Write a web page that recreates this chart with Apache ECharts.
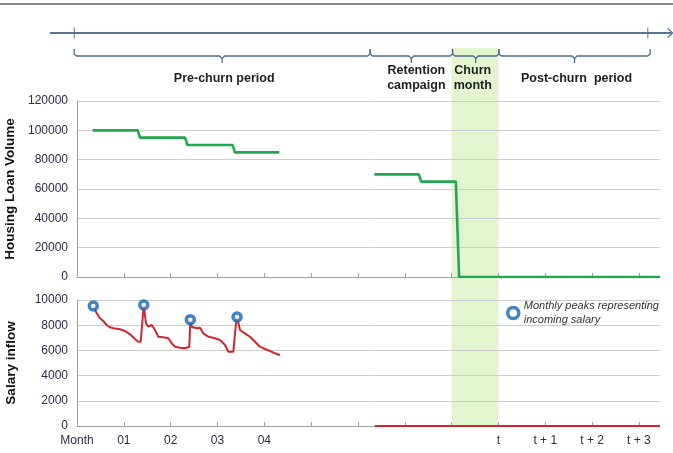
<!DOCTYPE html>
<html><head><meta charset="utf-8">
<script src="https://cdn.jsdelivr.net/npm/echarts@6/dist/echarts.min.js"></script>
<style>html,body{margin:0;padding:0;background:#fff}#c{width:673px;height:453px}</style>
</head><body><div id="c"></div>
<script>
// ---- data (x = months on the common time axis) ----
const monthTicks = [0,1,2,3,4,5,6,7,8,9,10,11,12];
const monthLabels = ['Month','01','02','03','04','','','','','t','t + 1','t + 2','t + 3'];
const loanPre = [[0.335,100000],[1.296,100000],[1.345,95000],[2.306,95000],[2.36,90000],[3.325,90000],[3.37,85000],[4.32,85000]];
const loanRetention = [[6.35,70000],[7.30,70000],[7.35,65000],[8.09,65000],[8.16,0],[12.45,0]];
const salary = [[0.348,9524],[0.421,8944],[0.491,8548],[0.562,8333],[0.634,8016],[0.705,7833],[0.775,7754],[0.918,7675],[1.025,7540],[1.132,7278],[1.239,6905],[1.309,6690],[1.360,6690],[1.425,9603],[1.473,8151],[1.523,7881],[1.595,8016],[1.666,7619],[1.736,7087],[1.843,7040],[1.950,6960],[2.022,6563],[2.093,6294],[2.199,6214],[2.306,6167],[2.398,6294],[2.420,8440],[2.445,7881],[2.483,7833],[2.556,7754],[2.627,7802],[2.697,7357],[2.804,7087],[2.911,7008],[3.054,6825],[3.160,6429],[3.231,5897],[3.338,5897],[3.395,8151],[3.418,8650],[3.481,7619],[3.587,7357],[3.694,7087],[3.801,6690],[3.908,6294],[4.014,6111],[4.121,5952],[4.228,5770],[4.335,5635]];
const salaryAfter = [[6.36,0],[12.45,0]];
const salaryPeaks = [[0.348,9524],[1.425,9603],[2.420,8440],[3.418,8650]];
const peakLabel = 'Monthly peaks representing\nincoming salary';
const churnMonth = [8, 9];
const timelineExtent = [-0.58, 12.72];
const timelineTicks = [-0.06, 12.19];
const periodStarts = [-0.06, 6.26, 8.02, 9.01];
const periodEnds = [6.26, 8.02, 9.01, 12.24];
const periodLabels = ['Pre-churn period', 'Retention\ncampaign', 'Churn\nmonth', 'Post-churn  period'];

// ---- chart ----
const FF = 'Liberation Sans, Arial, sans-serif';
const labelShift = [2, 5, -3, 2];
const chart = echarts.init(document.getElementById('c'), null, {renderer:'canvas'});
const baseX = {type:'value', min:0, max:12.45, interval:1};
const axisGray = '#a0a0a0';
const tickColor = '#2e2a4a';
const gridBase = {left:77, right:13, containLabel:false, outerBoundsMode:'none'};
const option = {
  animation:false,
  backgroundColor:'#fff',
  textStyle:{fontFamily:FF},
  grid:[
    Object.assign({top:101, height:176}, gridBase),
    Object.assign({top:300, height:126}, gridBase),
    Object.assign({top:48, height:378}, gridBase),
    Object.assign({top:0, height:100}, gridBase)
  ],
  xAxis:[
    Object.assign({gridIndex:0}, baseX, {
      axisLine:{lineStyle:{color:axisGray}},
      axisTick:{inside:true, length:4, customValues:monthTicks, lineStyle:{color:axisGray}},
      axisLabel:{show:false}, splitLine:{show:false}}),
    Object.assign({gridIndex:1}, baseX, {
      axisLine:{lineStyle:{color:axisGray}},
      axisTick:{inside:true, length:4, customValues:monthTicks, lineStyle:{color:axisGray}},
      axisLabel:{customValues:monthTicks, margin:9, fontSize:12, color:tickColor, fontFamily:FF,
        formatter:v => (Number.isInteger(v) ? (monthLabels[v] || '') : '')},
      splitLine:{show:false}}),
    Object.assign({gridIndex:2}, baseX, {show:false}),
    Object.assign({gridIndex:3}, baseX, {show:false})
  ],
  yAxis:[
    {gridIndex:0, type:'value', min:0, max:120000, interval:20000,
     name:'Housing Loan Volume', nameLocation:'middle', nameGap:59,
     nameTextStyle:{fontWeight:'bold', fontSize:13.5, color:'#111', fontFamily:FF},
     axisLine:{show:true, lineStyle:{color:axisGray}}, axisTick:{show:false},
     axisLabel:{margin:9, fontSize:12, color:tickColor, fontFamily:FF, formatter:v => String(v)},
     splitLine:{lineStyle:{color:'#cdcdcd'}}},
    {gridIndex:1, type:'value', min:0, max:10000, interval:2000,
     name:'Salary inflow', nameLocation:'middle', nameGap:59,
     nameTextStyle:{fontWeight:'bold', fontSize:13.5, color:'#111', fontFamily:FF},
     axisLine:{show:true, lineStyle:{color:axisGray}}, axisTick:{show:false},
     axisLabel:{margin:9, fontSize:12, color:tickColor, fontFamily:FF, formatter:v => String(v)},
     splitLine:{lineStyle:{color:'#cdcdcd'}}},
    {gridIndex:2, type:'value', min:0, max:1, show:false},
    {gridIndex:3, type:'value', min:0, max:100, show:false}
  ],
  legend:{left:506, top:299, padding:0, itemWidth:11, itemHeight:11, orient:'vertical',
    textStyle:{fontStyle:'italic', fontSize:11, color:'#333', lineHeight:14, fontFamily:FF},
    data:[{name:peakLabel, icon:'circle', itemStyle:{color:'#fff', borderColor:'#1264b4', borderWidth:3.5}}]},
  graphic:[{type:'line', shape:{x1:0, y1:4, x2:673, y2:4}, style:{stroke:'#8a8a8a', lineWidth:2}}],
  series:[
    {type:'custom', xAxisIndex:2, yAxisIndex:2, z:-1, clip:false, silent:true,
     data:[[churnMonth[0], churnMonth[1]]],
     renderItem:(params, api) => {
       const p0 = api.coord([api.value(0), 0]);
       const p1 = api.coord([api.value(1), 1]);
       return {type:'rect', shape:{x:p0[0], y:p1[1], width:p1[0]-p0[0], height:p0[1]-p1[1]}, style:{fill:'#e3f5cf'}};
     }},
    {type:'line', xAxisIndex:0, yAxisIndex:0, data:loanPre, symbol:'none', lineStyle:{color:'#1fa84f', width:2.6}, z:3},
    {type:'line', xAxisIndex:0, yAxisIndex:0, data:loanRetention, symbol:'none', lineStyle:{color:'#1fa84f', width:2.6}, z:3},
    {type:'line', xAxisIndex:1, yAxisIndex:1, data:salary, symbol:'none', lineStyle:{color:'#d0262f', width:2}, z:3},
    {type:'line', xAxisIndex:1, yAxisIndex:1, data:salaryAfter, symbol:'none', lineStyle:{color:'#d0262f', width:2}, z:3},
    {type:'scatter', name:peakLabel, xAxisIndex:1, yAxisIndex:1, data:salaryPeaks, symbol:'circle', symbolSize:8,
     itemStyle:{color:'#fff', borderColor:'#1264b4', borderWidth:3.5}, z:5},
    {type:'custom', xAxisIndex:3, yAxisIndex:3, clip:false, silent:true,
     data:[[timelineExtent[0], timelineExtent[1], timelineTicks[0], timelineTicks[1]]],
     renderItem:(params, api) => {
       const x0 = api.coord([api.value(0), 0])[0];
       const x1 = api.coord([api.value(1), 0])[0];
       const t0 = api.coord([api.value(2), 0])[0];
       const t1 = api.coord([api.value(3), 0])[0];
       const st = {stroke:'#5a7494', lineWidth:2, fill:null};
       return {type:'group', children:[
         {type:'line', shape:{x1:x0, y1:33, x2:x1-1, y2:33}, style:st},
         {type:'polyline', shape:{points:[[x1-5,28.5],[x1,33],[x1-5,37.5]]}, style:{stroke:'#5a7494', lineWidth:1.3, fill:null}},
         {type:'line', shape:{x1:t0, y1:27.5, x2:t0, y2:38.5}, style:{stroke:'#5a7494', lineWidth:1}},
         {type:'line', shape:{x1:t1, y1:27.5, x2:t1, y2:38.5}, style:{stroke:'#5a7494', lineWidth:1}}
       ]};
     }},
    {type:'custom', xAxisIndex:3, yAxisIndex:3, clip:false, silent:true,
     data:periodStarts.map((s,i) => [s, periodEnds[i], i]),
     renderItem:(params, api) => {
       const a = api.coord([api.value(0), 0])[0];
       const b = api.coord([api.value(1), 0])[0];
       const i = api.value(2);
       const c = (a+b)/2;
       const st = {stroke:'#4e6c8e', lineWidth:1.3, fill:null};
       return {type:'group', children:[
         {type:'polyline', shape:{points:[[a,49],[a,54],[a+2.5,56],[c-2.5,56],[c,58.5],[c,63]]}, style:st},
         {type:'polyline', shape:{points:[[c,58.5],[c+2.5,56],[b-2.5,56],[b,54],[b,49]]}, style:st},
         {type:'text', style:{text:periodLabels[i], x:c+labelShift[i], y:78.5, align:'center', verticalAlign:'middle',
           fontSize:12.5, fontWeight:'bold', fontFamily:FF, fill:'#1e1e1e', lineHeight:15}}
       ]};
     }}
  ]
};
chart.setOption(option);
</script></body></html>
